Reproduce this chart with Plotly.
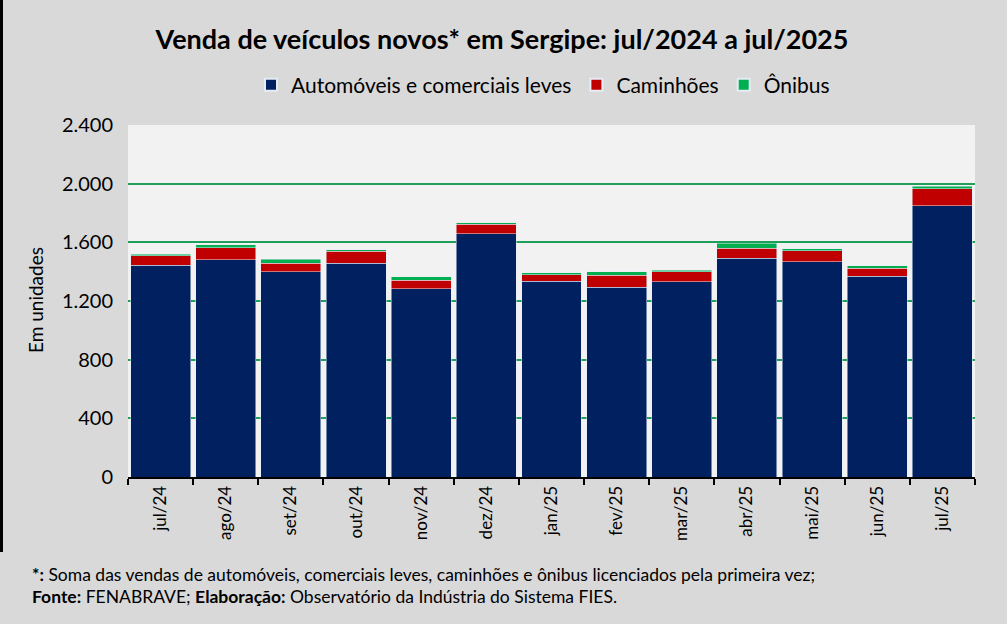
import plotly.graph_objects as go

meses = ["jul/24", "ago/24", "set/24", "out/24", "nov/24", "dez/24", "jan/25",
         "fev/25", "mar/25", "abr/25", "mai/25", "jun/25", "jul/25"]
automoveis = [1445, 1480, 1398, 1459, 1282, 1657, 1336, 1295, 1330, 1493, 1466, 1370, 1848]
caminhoes = [62, 82, 61, 80, 61, 68, 43, 82, 68, 68, 75, 55, 116]
onibus = [13, 21, 27, 9, 21, 7, 12, 21, 13, 34, 14, 14, 20]
y_ticks = [0, 400, 800, 1200, 1600, 2000, 2400]

W, H = 1007, 624
L, R, T, B = 128, 32, 125, 147
PW, PH = W - L - R, H - T - B

def px(x):
    return (x - L) / PW

def py(y):
    return (H - B - y) / PH

FONT = "Lato"

fig = go.Figure()
fig.add_bar(x=meses, y=automoveis, name="Automóveis e comerciais leves", marker_color="#002060")
fig.add_bar(x=meses, y=caminhoes, name="Caminhões", marker_color="#C00000")
fig.add_bar(x=meses, y=onibus, name="Ônibus", marker_color="#00B050")

fig.update_layout(
    width=W, height=H,
    barmode="stack", bargap=0.08,
    separators=",.",
    paper_bgcolor="#d9d9d9", plot_bgcolor="#f2f2f2",
    margin=dict(l=L, r=R, t=T, b=B),
    font=dict(family=FONT, color="#000000"),
    title=dict(text="<b>Venda de veículos novos* em Sergipe: jul/2024 a jul/2025</b>",
               x=502 / W, xanchor="center", xref="container",
               y=1 - 40 / H, yanchor="middle", yref="container",
               font=dict(size=27, family=FONT, color="#000000")),
    legend=dict(orientation="h", x=px(543), xanchor="center", y=py(85), yanchor="middle",
                font=dict(size=21, family=FONT), bgcolor="rgba(0,0,0,0)",
                itemsizing="constant", traceorder="normal", itemwidth=30),
    showlegend=True,
)
fig.update_xaxes(
    type="category", tickangle=-90, tickfont=dict(size=17, family=FONT),
    showline=True, linecolor="#000000", linewidth=2,
    ticks="outside", tickson="boundaries", ticklen=6, tickcolor="#000000", tickwidth=2,
    showgrid=False,
)
fig.update_yaxes(
    range=[0, 2400], tickvals=y_ticks, tickformat=",d",
    tickfont=dict(size=20, family=FONT),
    showgrid=True, gridcolor="#1fa05a", gridwidth=2,
    zeroline=False, showline=False, ticks="", ticklabelstandoff=14,
)

fig.add_annotation(text="Em unidades", xref="paper", yref="paper", x=px(35), y=py(300),
                   textangle=-90, showarrow=False, font=dict(size=19, family=FONT),
                   xanchor="center", yanchor="middle")
fig.add_annotation(text="<b>*:</b> Soma das vendas de automóveis, comerciais leves, caminhões e ônibus licenciados pela primeira vez;",
                   xref="paper", yref="paper", x=px(30), y=py(574), showarrow=False,
                   xanchor="left", yanchor="middle", font=dict(size=17.5, family=FONT))
fig.add_annotation(text="<b>Fonte:</b> FENABRAVE; <b>Elaboração:</b> Observatório da Indústria do Sistema FIES.",
                   xref="paper", yref="paper", x=px(30), y=py(596), showarrow=False,
                   xanchor="left", yanchor="middle", font=dict(size=17.5, family=FONT))

fig.add_shape(type="rect", xref="paper", yref="paper",
              x0=px(0), x1=px(3), y0=py(552), y1=py(0),
              fillcolor="#000000", line_width=0, layer="above")

fig.write_html("out.html", config={"displayModeBar": False},
               post_script="document.body.style.margin='0';document.body.style.background='#d9d9d9';")
